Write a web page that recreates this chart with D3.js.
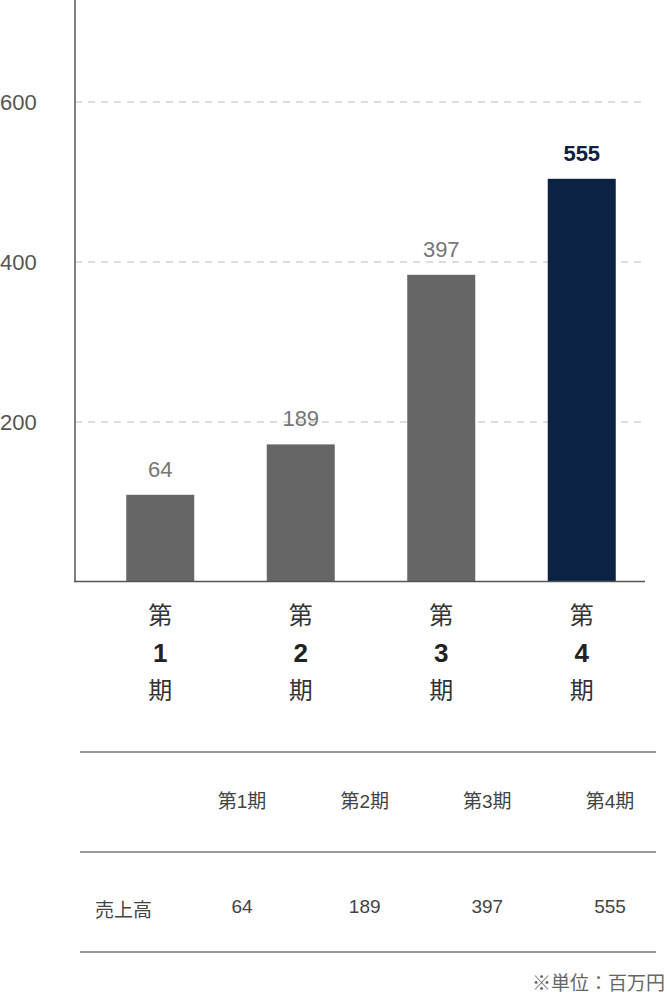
<!DOCTYPE html>
<html>
<head>
<meta charset="utf-8">
<script src="https://cdn.jsdelivr.net/npm/d3@7"></script>
<style>
  body { margin: 0; background: #fff; }
  svg { font-family: "Liberation Sans", "Noto Sans CJK JP", sans-serif; }
</style>
</head>
<body>
<svg id="chart" width="667" height="997"></svg>
<script>
// periods and values
var periods = ['第1期', '第2期', '第3期', '第4期'];
var periodNums = ['1', '2', '3', '4'];
var sales = [64, 189, 397, 555];
// bar heights as drawn in the picture (not to label scale)
var barValues = [109, 172, 384, 504];
var yTicks = [200, 400, 600];
var rowLabel = '売上高';
var unitNote = '※単位：百万円';

var svg = d3.select('#chart');

var y = d3.scaleLinear().domain([0, 600]).range([582, 102]);
var x = d3.scaleBand().domain(periods).range([90, 652]);
var barW = 68;

// grid lines
svg.selectAll('.grid').data(yTicks).enter().append('line')
    .attr('x1', 75).attr('x2', 645)
    .attr('y1', function(d){ return y(d); })
    .attr('y2', function(d){ return y(d); })
    .attr('stroke', '#bbb').attr('stroke-width', 1.2)
    .attr('stroke-dasharray', '7,6');

svg.selectAll('.ytick').data(yTicks).enter().append('text')
    .attr('x', 0).attr('y', function(d){ return y(d) + 8; })
    .attr('font-size', 22).attr('fill', '#555')
    .text(function(d){ return d; });

// bars
svg.selectAll('.bar').data(periods).enter().append('rect')
    .attr('x', function(d){ return x(d) + x.bandwidth() / 2 - barW / 2; })
    .attr('y', function(d, i){ return y(barValues[i]); })
    .attr('width', barW)
    .attr('height', function(d, i){ return y(0) - y(barValues[i]); })
    .attr('fill', function(d, i){ return i === 3 ? '#0b2242' : '#666'; });

svg.selectAll('.val').data(periods).enter().append('text')
    .attr('x', function(d){ return x(d) + x.bandwidth() / 2; })
    .attr('y', function(d, i){ return y(barValues[i]) - 18; })
    .attr('text-anchor', 'middle')
    .attr('font-size', 22)
    .attr('font-weight', function(d, i){ return i === 3 ? 'bold' : 'normal'; })
    .attr('fill', function(d, i){ return i === 3 ? '#0b2242' : '#777'; })
    .text(function(d, i){ return sales[i]; });

// axes lines
svg.append('line').attr('x1', 75).attr('x2', 75).attr('y1', 0).attr('y2', 582)
    .attr('stroke', '#555').attr('stroke-width', 1.5);
svg.append('line').attr('x1', 74).attr('x2', 645).attr('y1', 581.5).attr('y2', 581.5)
    .attr('stroke', '#555').attr('stroke-width', 1.5);

// x labels: 第 / n / 期 stacked
var xl = svg.selectAll('.xl').data(periods).enter().append('g')
    .attr('transform', function(d){ return 'translate(' + (x(d) + x.bandwidth() / 2) + ',0)'; });
xl.append('text').attr('y', 624).attr('text-anchor', 'middle').attr('font-size', 24)
    .attr('fill', '#333').text('第');
xl.append('text').attr('y', 662).attr('text-anchor', 'middle').attr('font-size', 26)
    .attr('font-weight', 'bold').attr('fill', '#222')
    .text(function(d, i){ return periodNums[i]; });
xl.append('text').attr('y', 699).attr('text-anchor', 'middle').attr('font-size', 24)
    .attr('fill', '#333').text('期');

// table
[752, 852, 952].forEach(function(ly){
  svg.append('line').attr('x1', 80).attr('x2', 656).attr('y1', ly).attr('y2', ly)
      .attr('stroke', '#777').attr('stroke-width', 1.3);
});
var colX = d3.scalePoint().domain(periods).range([242, 610]);

svg.selectAll('.th').data(periods).enter().append('text')
    .attr('x', function(d){ return colX(d); }).attr('y', 808)
    .attr('text-anchor', 'middle').attr('font-size', 19).attr('fill', '#444')
    .text(function(d){ return d; });

svg.append('text').attr('x', 95).attr('y', 917).attr('font-size', 19)
    .attr('fill', '#444').text(rowLabel);
svg.selectAll('.td').data(periods).enter().append('text')
    .attr('x', function(d){ return colX(d); }).attr('y', 913)
    .attr('text-anchor', 'middle').attr('font-size', 19).attr('fill', '#444')
    .text(function(d, i){ return sales[i]; });

svg.append('text').attr('x', 665).attr('y', 990).attr('text-anchor', 'end')
    .attr('font-size', 19).attr('fill', '#666').text(unitNote);
</script>
</body>
</html>
